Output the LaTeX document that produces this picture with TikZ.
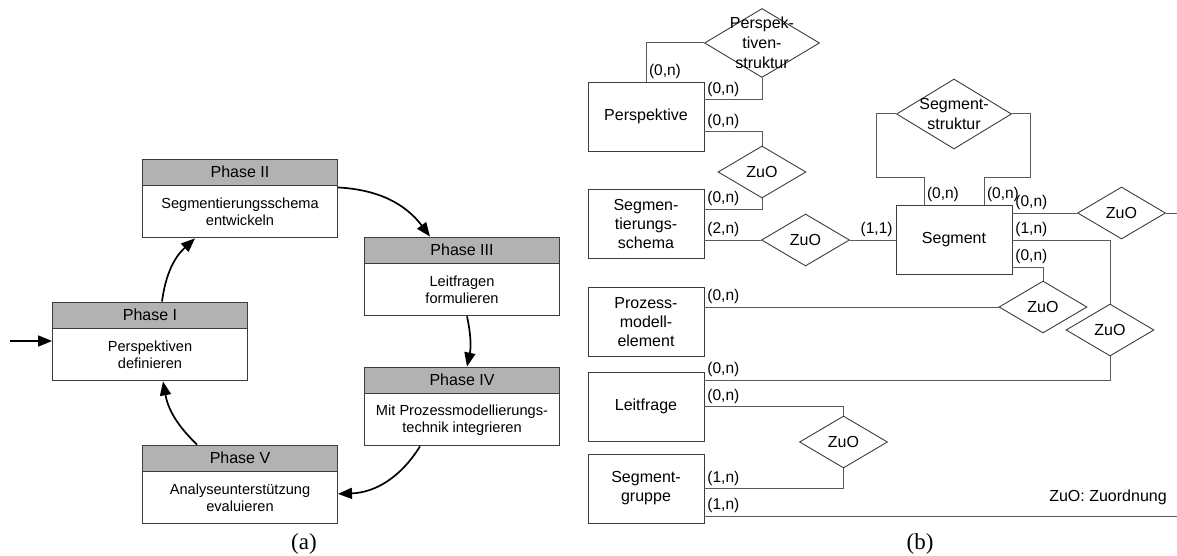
\documentclass[tikz,border=0pt]{standalone}
\usepackage{fontspec}
\setmainfont{Liberation Sans}
\newfontfamily\capfont{Liberation Serif}
\usetikzlibrary{shapes.geometric, arrows.meta, positioning}
\definecolor{headgray}{RGB}{178, 178, 178}
\definecolor{framegray}{RGB}{60, 60, 60}
\definecolor{linegray}{RGB}{90, 90, 90}
\tikzset{
  phasehead/.style = {rectangle, draw=framegray, fill=headgray, line width=0.9pt, minimum width=195pt, minimum height=26pt, inner sep=0pt, font=\fontsize{16}{19}\selectfont},
  phasebody/.style = {rectangle, draw=framegray, fill=white, line width=0.9pt, minimum width=195pt, minimum height=52pt, inner sep=0pt, align=center, font=\fontsize{14.6}{17}\selectfont},
  flow/.style      = {-{Triangle[length=14pt, width=11pt]}, line width=1.7pt, black},
  entity/.style    = {rectangle, draw=framegray, line width=0.9pt, minimum width=116pt, minimum height=69pt, inner sep=0pt, align=center, font=\fontsize{16}{19}\selectfont},
  relation/.style  = {diamond, draw=framegray, line width=0.9pt, aspect=1.7, inner sep=0pt, minimum width=88pt, minimum height=52pt, font=\fontsize{16}{19}\selectfont},
  reltext/.style   = {align=center, inner sep=0pt, font=\fontsize{16}{20}\selectfont},
  rel/.style       = {draw=linegray, line width=1pt},
  card/.style      = {inner sep=2.5pt, font=\fontsize{15.5}{17}\selectfont},
}
\begin{document}
\begin{tikzpicture}[
    x=1pt, y=-1pt,
    bigrel/.style={relation, minimum width=115pt, minimum height=69pt},
    caption/.style={font=\capfont\fontsize{23}{26}\selectfont}
]
\useasboundingbox (0,0) rectangle (1177,556);

% ================= (a) Phasen =================
\node (p1h) [phasehead] at (150,315) {Phase I};
\node (p1)  [phasebody, below=0pt of p1h] {Perspektiven\\definieren};
\node (p2h) [phasehead] at (240,172) {Phase II};
\node (p2)  [phasebody, below=0pt of p2h] {Segmentierungsschema\\entwickeln};
\node (p3h) [phasehead] at (462,250) {Phase III};
\node (p3)  [phasebody, below=0pt of p3h] {Leitfragen\\formulieren};
\node (p4h) [phasehead] at (462,380) {Phase IV};
\node (p4)  [phasebody, below=0pt of p4h] {Mit Prozessmodellierungs-\\technik integrieren};
\node (p5h) [phasehead] at (240,458) {Phase V};
\node (p5)  [phasebody, below=0pt of p5h] {Analyseunterstützung\\evaluieren};

\coordinate (entry) at (10,341);

% Zyklus
\draw [flow] (entry) -- (entry -| p1.west);
\draw [flow] ([xshift=12pt]p1h.north) to[bend left=20] ([xshift=-45pt]p2.south);
\draw [flow] ([yshift=-2pt]p2.north east) to[bend left=25] ([xshift=-32pt]p3h.north);
\draw [flow] ([xshift=5pt]p3.south) to[bend left=12] ([xshift=5pt]p4h.north);
\draw [flow] ([xshift=-42pt]p4.south) to[bend left=28] ([yshift=4pt]p5.east);
\draw [flow] ([xshift=-43pt]p5h.north) to[bend left=18] ([xshift=13pt]p1.south);

\node (capa) [caption] at (304,544) {(a)};

% ================= (b) Entitaeten =================
\node (pers)   [entity] at (646,116.5) {Perspektive};
\node (schema) [entity] at (646,224)   {Segmen-\\tierungs-\\schema};
\node (proz)   [entity] at (646,322)   {Prozess-\\modell-\\element};
\node (leit)   [entity] at (646,406.5) {Leitfrage};
\node (grp)    [entity] at (646,488.5) {Segment-\\gruppe};
\node (seg)    [entity] at (954,240)   {Segment};

% ================= (b) Beziehungen =================
\node (pstr) [bigrel, label={[reltext]center:{Perspek-\\tiven-\\struktur}}] at (762,43) {};
\node (sstr) [bigrel, minimum height=70pt, label={[reltext]center:{Segment-\\struktur}}] at (954,114) {};
\node (zuo1) [relation] at (762,172)    {ZuO};
\node (zuo2) [relation] at (805.5,240)  {ZuO};
\node (zuo3) [relation] at (1121.5,213) {ZuO};
\node (zuo4) [relation] at (1043,307)   {ZuO};
\node (zuo5) [relation] at (1110,330)   {ZuO};
\node (zuo6) [relation] at (843.5,442)  {ZuO};

\coordinate (rim) at (1177,0);
\coordinate (grplow) at ([yshift=-27.5pt]grp.east);

\node (legend) [font=\fontsize{16}{19}\selectfont] at (1108,497) {ZuO: Zuordnung};
\node (capb) [caption] at (920,544) {(b)};

% Perspektive
\draw [rel] (pers.north) node[card, above right] {(0,n)} |- (pstr.west);
\draw [rel] ([yshift=16.5pt]pers.east) node[card, above right] {(0,n)} -| (pstr.south);
\draw [rel] ([yshift=-15.5pt]pers.east) node[card, above right] {(0,n)} -| (zuo1.north);

% Segmentierungsschema
\draw [rel] ([yshift=15pt]schema.east) node[card, above right] {(0,n)} -| (zuo1.south);
\draw [rel] (zuo2.west -| schema.east) node[card, above right] {(2,n)} -- (zuo2.west);
\draw [rel] (zuo2.east) -- (seg.west) node[card, above left] {(1,1)};

% Segmentstruktur
\draw [rel] ([xshift=-30pt]seg.north) node[card, above right] {(0,n)} -- ++(0,-28) -| ([xshift=-20pt]sstr.west) -- (sstr.west);
\draw [rel] ([xshift=30pt]seg.north) node[card, above right] {(0,n)} -- ++(0,-28) -| ([xshift=19pt]sstr.east) -- (sstr.east);

% Segment rechts
\draw [rel] (zuo3.west -| seg.east) node[card, above right] {(0,n)} -- (zuo3.west);
\draw [rel] (zuo3.east) -- (zuo3.east -| rim);
\draw [rel] (seg.east) node[card, above right] {(1,n)} -| (zuo5.north);
\draw [rel] ([yshift=-27pt]seg.east) node[card, above right] {(0,n)} -| (zuo4.north);

% Prozessmodellelement
\draw [rel] (zuo4.west -| proz.east) node[card, above right] {(0,n)} -- (zuo4.west);

% Leitfrage
\draw [rel] ([yshift=26.5pt]leit.east) node[card, above right] {(0,n)} -| (zuo5.south);
\draw [rel] (leit.east) node[card, above right] {(0,n)} -| (zuo6.north);

% Segmentgruppe
\draw [rel] (grp.east) node[card, above right] {(1,n)} -| (zuo6.south);
\draw [rel] (grplow) node[card, above right] {(1,n)} -- (grplow -| rim);

\end{tikzpicture}
\end{document}
